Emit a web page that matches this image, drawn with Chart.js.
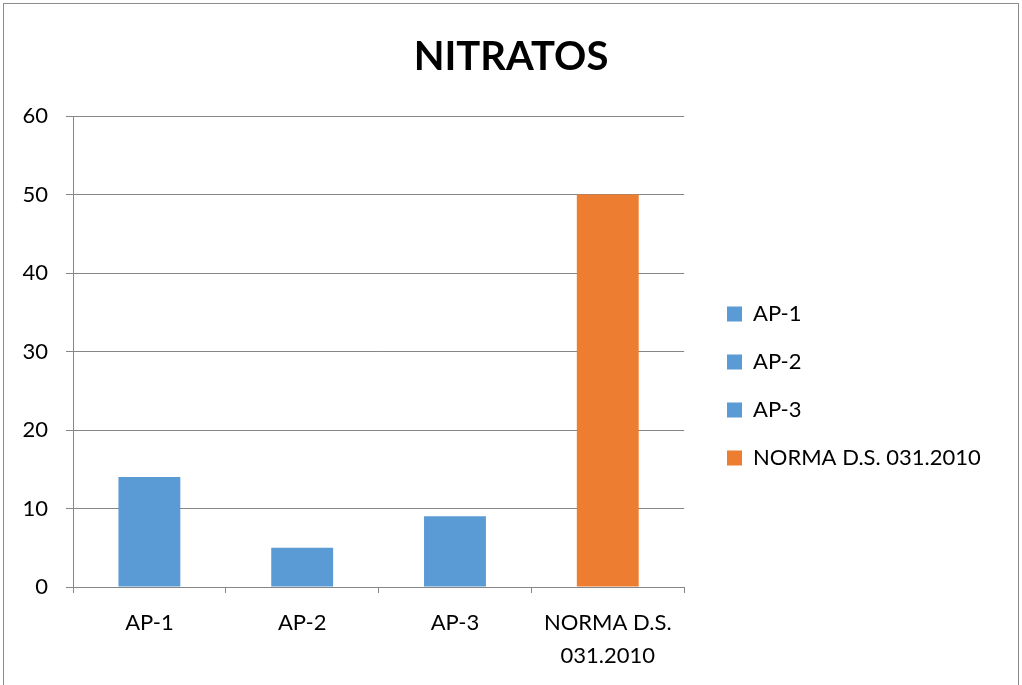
<!DOCTYPE html>
<html>
<head>
<meta charset="utf-8">
<script src="https://cdn.jsdelivr.net/npm/chart.js@4.4.1/dist/chart.umd.min.js"></script>
<style>
  html, body { margin: 0; padding: 0; background: #fff; }
  #wrap { position: relative; width: 1022px; height: 685px; }
  #frame { position: absolute; left: 3px; top: 3px; width: 1016px; height: 700px; border: 1px solid #8c8c8c; box-sizing: border-box; pointer-events: none; }
  canvas { position: absolute; left: 0; top: 0; }
</style>
</head>
<body>
<div id="wrap">
  <canvas id="c" width="1022" height="685"></canvas>
  <div id="frame"></div>
</div>
<script>
const categories = ['AP-1', 'AP-2', 'AP-3', 'NORMA D.S. 031.2010'];
const tickLabels = [['AP-1'], ['AP-2'], ['AP-3'], ['NORMA D.S.', '031.2010']];
const nitratos = [14, 5, 9, 50];
const barColors = ['#5B9BD5', '#5B9BD5', '#5B9BD5', '#ED7D31'];
const titleText = 'NITRATOS';

const FONT = "Lato, 'Open Sans', 'Liberation Sans', sans-serif";
const GRID = '#868686';
const LEGEND_PAD = 26;

// Positioning tweaks to mimic the spreadsheet layout
const layoutTweak = {
  id: 'layoutTweak',
  afterLayout(chart) {
    const t = chart.titleBlock;
    if (t) { t.left = 0; t.right = chart.width; t.width = chart.width; }
    const l = chart.legend;
    if (l) {
      const w = l.width;
      l.left = 727 - LEGEND_PAD;
      l.right = l.left + w;
      const h = l.height;
      l.top = 303 - LEGEND_PAD;
      l.bottom = l.top + h;
    }
  }
};

function build() {
  new Chart(document.getElementById('c'), {
    type: 'bar',
    data: {
      labels: tickLabels,
      datasets: [{
        label: titleText,
        data: nitratos,
        backgroundColor: barColors,
        borderWidth: 0,
        barPercentage: 0.405,
        categoryPercentage: 1.0
      }]
    },
    plugins: [layoutTweak],
    options: {
      responsive: false,
      animation: false,
      layout: { padding: { left: 0, right: 48, top: 0, bottom: 0 } },
      plugins: {
        title: {
          display: true,
          text: titleText,
          color: '#000',
          font: { family: FONT, size: 40, weight: 'bold' },
          padding: { top: 33, bottom: 35 }
        },
        legend: {
          position: 'right',
          align: 'start',
          maxWidth: 400,
          labels: {
            color: '#000',
            font: { family: FONT, size: 22 },
            boxWidth: 15,
            boxHeight: 15,
            padding: LEGEND_PAD,
            generateLabels: function(chart) {
              return categories.map(function(c, i) {
                return {
                  text: c,
                  fillStyle: barColors[i],
                  strokeStyle: barColors[i],
                  lineWidth: 0,
                  hidden: false,
                  index: i,
                  datasetIndex: 0
                };
              });
            }
          }
        },
        tooltip: { enabled: false }
      },
      scales: {
        x: {
          offset: true,
          grid: {
            display: true,
            drawOnChartArea: false,
            drawTicks: true,
            tickLength: 6,
            color: GRID,
            offset: true
          },
          border: { display: true, color: GRID, width: 1 },
          ticks: {
            color: '#000',
            font: { family: FONT, size: 22, lineHeight: 1.5 },
            padding: 13,
            maxRotation: 0,
            autoSkip: false
          }
        },
        y: {
          min: 0,
          max: 60,
          afterFit: function(scale) { scale.width = 73; },
          grid: {
            color: GRID,
            tickLength: 7,
            drawTicks: true
          },
          border: { display: true, color: GRID, width: 1 },
          ticks: {
            stepSize: 10,
            color: '#000',
            font: { family: FONT, size: 22 },
            padding: 18
          }
        }
      }
    }
  });
}

Promise.all([
  document.fonts.load("22px Lato"),
  document.fonts.load("bold 40px Lato")
]).then(build, build);
</script>
</body>
</html>
